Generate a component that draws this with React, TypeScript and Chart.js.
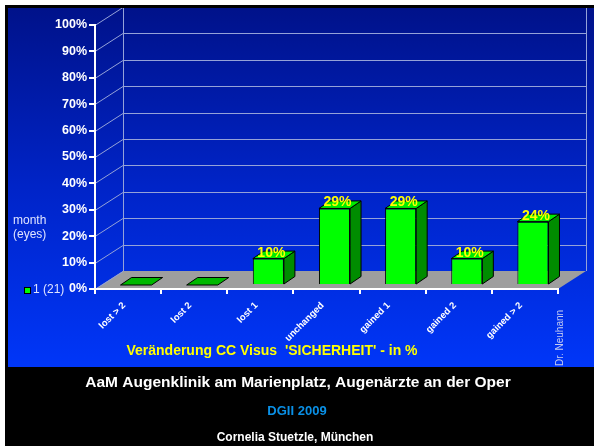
import React, { useEffect, useRef } from "react";
import { Chart, registerables } from "chart.js";

Chart.register(...registerables);

const categories = ["lost > 2", "lost 2", "lost 1", "unchanged", "gained 1", "gained 2", "gained > 2"];
const values = [0, 0, 10, 29, 29, 10, 24];
const seriesLabel = "1 (21)";
const yTickValues = [0, 10, 20, 30, 40, 50, 60, 70, 80, 90, 100];
const axisTitle = "Veränderung CC Visus  'SICHERHEIT' - in %";
const yAxisLabel = ["month", "(eyes)"];
const credit = "Dr. Neuhann";
const footerLines = ["AaM Augenklinik am Marienplatz, Augenärzte an der Oper", "DGII 2009", "Cornelia Stuetzle, München"];

const W = 589;
const H = 441;
const FONT = "'Liberation Sans', Arial, Helvetica, sans-serif";
const DEPTH_X = 28;
const DEPTH_Y = -18;
const BAR_SHIFT_X = 8;
const BAR_SHIFT_Y = -4;
const SIDE_X = 11;
const SIDE_Y = -7.5;

const threeD = {
  id: "threeD",
  beforeDraw(chart: any) {
    const ctx = chart.ctx as CanvasRenderingContext2D;
    const { left, right, bottom } = chart.chartArea;
    const ys = chart.scales.y;
    ctx.save();
    ctx.fillStyle = "#000000";
    ctx.fillRect(0, 0, W, H);
    const g = ctx.createLinearGradient(0, 3, 0, 362);
    g.addColorStop(0, "#00128a");
    g.addColorStop(0.5, "#0024c8");
    g.addColorStop(1, "#0036f8");
    ctx.fillStyle = g;
    ctx.fillRect(3, 3, W - 3, 359);

    ctx.beginPath();
    ctx.rect(3, 3, W - 3, 359);
    ctx.clip();

    // floor
    ctx.fillStyle = "#9e9e9e";
    ctx.beginPath();
    ctx.moveTo(left, bottom);
    ctx.lineTo(left + DEPTH_X, bottom + DEPTH_Y);
    ctx.lineTo(right + DEPTH_X, bottom + DEPTH_Y);
    ctx.lineTo(right, bottom);
    ctx.closePath();
    ctx.fill();

    ctx.strokeStyle = "#95a2d8";
    ctx.lineWidth = 1;
    yTickValues.forEach((v) => {
      const py = Math.round(ys.getPixelForValue(v)) + 0.5;
      ctx.beginPath();
      ctx.moveTo(left, py);
      ctx.lineTo(left + DEPTH_X, py + DEPTH_Y);
      if (v > 0) ctx.lineTo(right + DEPTH_X, py + DEPTH_Y);
      ctx.stroke();
    });
    ctx.beginPath();
    ctx.moveTo(left + DEPTH_X + 0.5, 0);
    ctx.lineTo(left + DEPTH_X + 0.5, bottom + DEPTH_Y);
    ctx.moveTo(right + DEPTH_X + 0.5, 0);
    ctx.lineTo(right + DEPTH_X + 0.5, bottom + DEPTH_Y);
    ctx.stroke();
    ctx.restore();
  },
  beforeDatasetsDraw(chart: any) {
    const ctx = chart.ctx as CanvasRenderingContext2D;
    ctx.save();
    ctx.translate(BAR_SHIFT_X, BAR_SHIFT_Y);
  },
  afterDatasetsDraw(chart: any) {
    const ctx = chart.ctx as CanvasRenderingContext2D;
    const meta = chart.getDatasetMeta(0);
    const data = chart.data.datasets[0].data as number[];
    meta.data.forEach((el: any, i: number) => {
      const w = el.width;
      const l = el.x - w / 2;
      const r = el.x + w / 2;
      const t = el.y;
      const b = el.base;
      ctx.lineWidth = 1;
      ctx.strokeStyle = "#000000";
      if (b - t > 0.5) {
        ctx.fillStyle = "#008c00";
        ctx.beginPath();
        ctx.moveTo(r, t);
        ctx.lineTo(r + SIDE_X, t + SIDE_Y);
        ctx.lineTo(r + SIDE_X, b + SIDE_Y);
        ctx.lineTo(r, b);
        ctx.closePath();
        ctx.fill();
        ctx.stroke();
      }
      ctx.fillStyle = b - t > 0.5 ? "#00ec00" : "#00b800";
      ctx.beginPath();
      ctx.moveTo(l, t);
      ctx.lineTo(l + SIDE_X, t + SIDE_Y);
      ctx.lineTo(r + SIDE_X, t + SIDE_Y);
      ctx.lineTo(r, t);
      ctx.closePath();
      ctx.fill();
      ctx.stroke();
      if (data[i] > 0) {
        ctx.fillStyle = "#ffff00";
        ctx.font = `bold 14px ${FONT}`;
        ctx.textAlign = "center";
        ctx.textBaseline = "alphabetic";
        ctx.fillText(`${data[i]}%`, el.x + 3, t - 2);
      }
    });
    ctx.restore();
  },
  afterDraw(chart: any) {
    const ctx = chart.ctx as CanvasRenderingContext2D;
    const label = chart.data.datasets[0].label;
    ctx.save();
    ctx.textBaseline = "middle";
    ctx.fillStyle = "#dfe4ff";
    ctx.font = `12px ${FONT}`;
    ctx.textAlign = "left";
    ctx.fillText(yAxisLabel[0], 8, 216);
    ctx.fillText(yAxisLabel[1], 8, 230);
    ctx.fillStyle = "#00ff00";
    ctx.fillRect(19.5, 282.5, 6, 6);
    ctx.strokeStyle = "#000000";
    ctx.lineWidth = 1;
    ctx.strokeRect(19.5, 282.5, 6, 6);
    ctx.fillStyle = "#dfe4ff";
    ctx.fillText(label, 28, 285);
    ctx.fillStyle = "#ffff00";
    ctx.font = `bold 14px ${FONT}`;
    ctx.textAlign = "center";
    ctx.fillText(axisTitle, 267, 346);
    ctx.save();
    ctx.translate(555, 333);
    ctx.rotate(-Math.PI / 2);
    ctx.fillStyle = "#c4ccf0";
    ctx.font = `10px ${FONT}`;
    ctx.fillText(credit, 0, 0);
    ctx.restore();
    ctx.textAlign = "center";
    ctx.fillStyle = "#ffffff";
    ctx.font = `bold 15.5px ${FONT}`;
    ctx.fillText(footerLines[0], 293, 378);
    ctx.fillStyle = "#0a90e6";
    ctx.font = `bold 13px ${FONT}`;
    ctx.fillText(footerLines[1], 292, 406);
    ctx.fillStyle = "#ffffff";
    ctx.font = `bold 12px ${FONT}`;
    ctx.fillText(footerLines[2], 290, 433);
    ctx.restore();
  },
};

export default function App() {
  const ref = useRef<HTMLCanvasElement | null>(null);
  useEffect(() => {
    if (!ref.current) return;
    const chart = new Chart(ref.current, {
      type: "bar",
      data: {
        labels: categories,
        datasets: [
          {
            label: seriesLabel,
            data: values,
            backgroundColor: "#00ff00",
            borderColor: "#000000",
            borderWidth: 1,
            categoryPercentage: 1,
            barPercentage: 0.47,
            clip: false as any,
          },
        ],
      },
      options: {
        responsive: false,
        animation: false,
        layout: { padding: { left: 0, top: 20, right: 36, bottom: 0 } },
        plugins: {
          legend: { display: false },
          tooltip: { enabled: false },
        },
        scales: {
          x: {
            type: "category",
            offset: true,
            grid: {
              offset: true,
              drawOnChartArea: false,
              drawTicks: true,
              tickLength: 5,
              color: "#ffffff",
              lineWidth: 2,
            },
            border: { display: true, color: "#ffffff", width: 2 },
            ticks: {
              color: "#ffffff",
              font: { family: FONT, size: 9.5, weight: "bold" },
              maxRotation: 45,
              minRotation: 45,
              padding: 6,
              labelOffset: -4,
              autoSkip: false,
            },
            afterFit: (s: any) => {
              s.height = 157;
            },
          },
          y: {
            min: 0,
            max: 100,
            afterBuildTicks: (s: any) => {
              s.ticks = yTickValues.map((v) => ({ value: v }));
            },
            grid: {
              drawOnChartArea: false,
              drawTicks: true,
              tickLength: 6,
              color: "#ffffff",
              lineWidth: 2,
            },
            border: { display: true, color: "#ffffff", width: 2 },
            ticks: {
              color: "#ffffff",
              font: { family: FONT, size: 12.5, weight: "bold" },
              padding: 2,
              callback: (v: any) => `${v}%`,
            },
            afterFit: (s: any) => {
              s.width = 90;
            },
          },
        },
      },
      plugins: [threeD],
    });
    return () => chart.destroy();
  }, []);
  return (
    <div style={{ position: "fixed", left: 0, top: 0, width: 594, height: 446, background: "#ffffff" }}>
      <canvas ref={ref} width={W} height={H} style={{ position: "absolute", left: 5, top: 5, width: W, height: H }} />
    </div>
  );
}
